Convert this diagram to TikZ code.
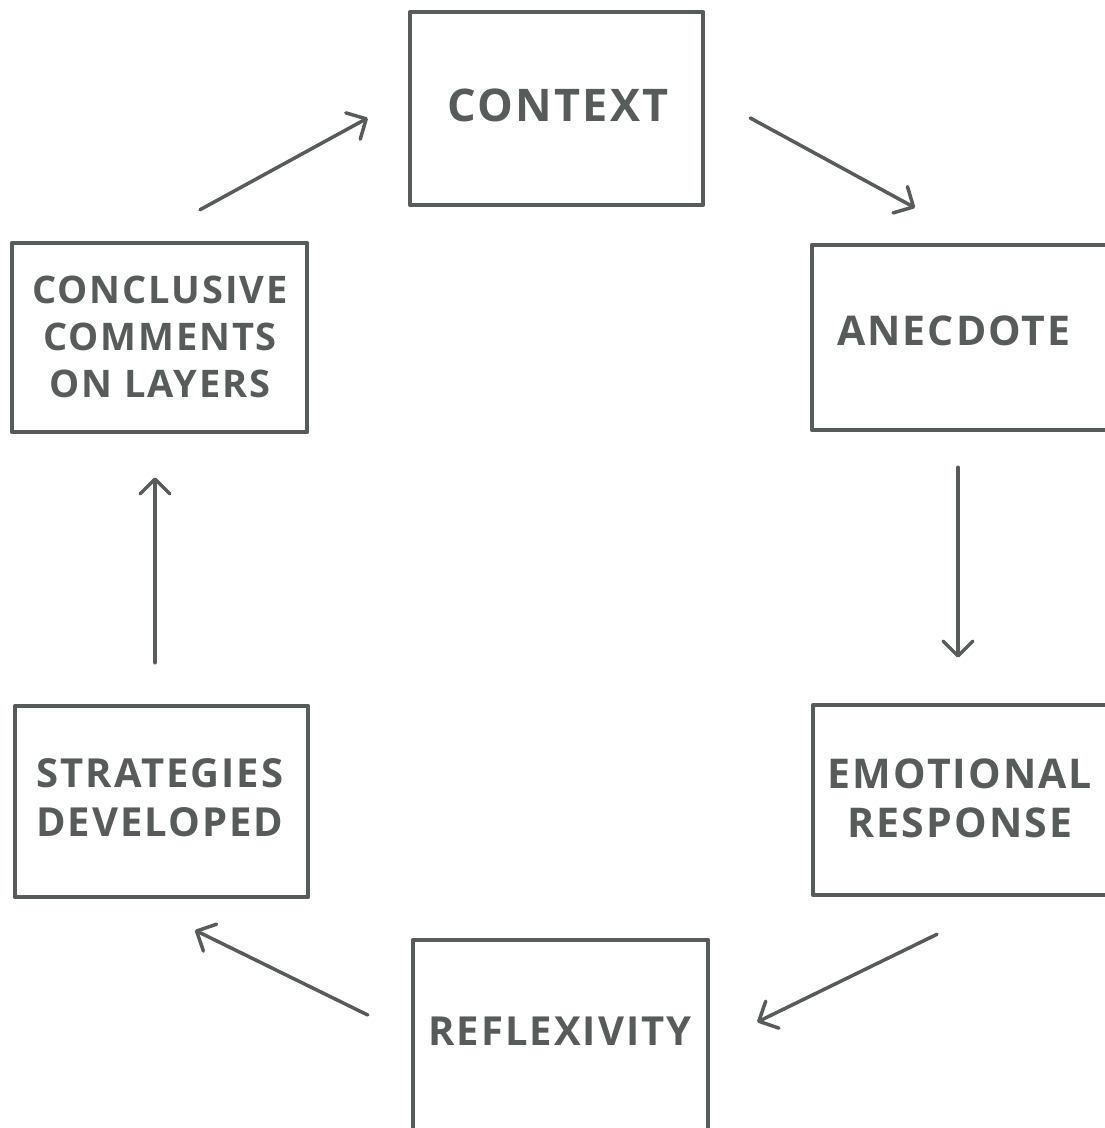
\documentclass[tikz,border=0pt]{standalone}
\usepackage{fontspec}
\setmainfont{Open Sans}
\newfontfamily\handfont[LetterSpace=5]{Open Sans}
\usetikzlibrary{arrows.meta,calc}
\definecolor{ink}{HTML}{575C5A}
\tikzset{
  box/.style={draw=ink, line width=4.5pt, rectangle, inner sep=0pt, line join=round},
  lbl/.style={inner sep=0pt, align=center, text=ink},
  arr/.style={draw=ink, line width=3.5pt, line cap=round, -{Straight Barb[length=15pt,width=30pt,line join=round,line cap=round]}},
}
\begin{document}
\begin{tikzpicture}[x=1pt,y=-1pt]
\useasboundingbox (0,0) rectangle (1105,1128);
\clip (0,0) rectangle (1105,1128);
\fill[white] (0,0) rectangle (1105,1128);
\node[box, minimum width=293pt, minimum height=193pt] (ctx) at (556.5,108.5) {};
\node[box, minimum width=300pt, minimum height=185pt] (anec) at (962,337.5) {};
\node[box, minimum width=299pt, minimum height=190pt] (emo) at (962.5,800) {};
\node[box, minimum width=295pt, minimum height=195pt] (refl) at (560.5,1037.5) {};
\node[box, minimum width=293pt, minimum height=191pt] (strat) at (161.5,801.5) {};
\node[box, minimum width=295pt, minimum height=189pt] (concl) at (159.5,337.5) {};
\node[lbl, font=\handfont\bfseries\fontsize{45}{49}\selectfont] (ctxt) at (558,105) {CONTEXT};
\node[lbl, font=\handfont\bfseries\fontsize{41}{49}\selectfont] (anect) at (954,331) {ANECDOTE};
\node[lbl, font=\handfont\bfseries\fontsize{41}{49}\selectfont] (emot) at (960,798) {EMOTIONAL\\RESPONSE};
\node[lbl, font=\handfont\bfseries\fontsize{40}{49}\selectfont] (reflt) at (560,1031) {REFLEXIVITY};
\node[lbl, font=\handfont\bfseries\fontsize{40}{49}\selectfont] (stratt) at (160,798) {STRATEGIES\\DEVELOPED};
\node[lbl, font=\handfont\bfseries\fontsize{38}{47}\selectfont] (conclt) at (160,337) {CONCLUSIVE\\COMMENTS\\ON LAYERS};
\draw[arr] ($(concl.north)+(40.5,-31)$) -- ($(ctx.west)+(-40,9.5)$);
\draw[arr] ($(ctx.east)+(45,9.5)$) -- ($(anec.north)+(-47,-35)$);
\draw[arr] ($(anec.south)+(-4,35)$) -- ($(emo.north)+(-4.5,-45)$);
\draw[arr] ($(emo.south)+(-25.5,37)$) -- ($(refl.east)+(47,-15.5)$);
\draw[arr] ($(refl.west)+(-43,-22.5)$) -- ($(strat.south)+(33.5,31)$);
\draw[arr] ($(strat.north)+(-6.5,-41)$) -- ($(concl.south)+(-4.5,43)$);
\end{tikzpicture}
\end{document}
